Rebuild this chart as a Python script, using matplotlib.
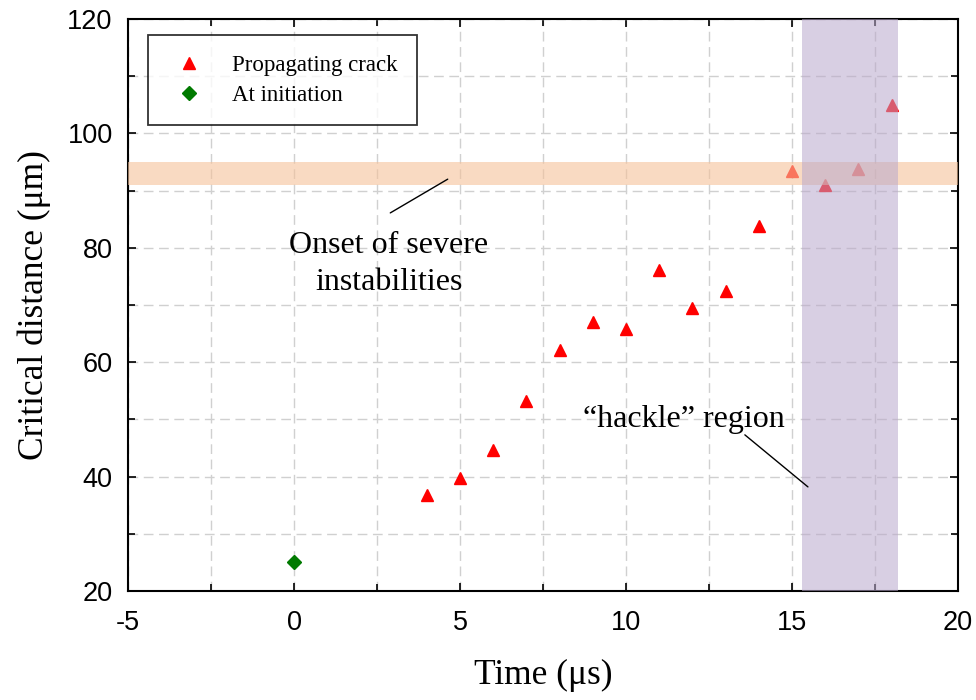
import matplotlib
matplotlib.use("Agg")
import matplotlib.pyplot as plt
from matplotlib.ticker import MultipleLocator

plt.rcParams["axes.unicode_minus"] = False

# Propagating crack: time (µs) vs critical distance (µm)
prop_time = [4, 5, 6, 7, 8, 9, 10, 11, 12, 13, 14, 15, 16, 17, 18]
prop_dist = [36.7, 39.8, 44.7, 53.2, 62.2, 67.0, 65.8, 76.1, 69.4, 72.5, 83.8, 93.4, 91.0, 93.7, 105.0]

# Crack initiation
init_time = [0]
init_dist = [25.0]

# Highlighted bands
onset_band = (91.0, 95.0)     # critical distance range
hackle_band = (15.3, 18.2)    # time range

serif = ["Liberation Serif", "DejaVu Serif"]
sans = ["Liberation Sans", "DejaVu Sans"]

fig = plt.figure(figsize=(9.76, 7.0), dpi=100)
ax = fig.add_axes([128 / 976, 1 - 591 / 700, (958 - 128) / 976, (591 - 19) / 700])

ax.set_xlim(-5, 20)
ax.set_ylim(20, 120)

ax.xaxis.set_major_locator(MultipleLocator(5))
ax.xaxis.set_minor_locator(MultipleLocator(2.5))
ax.yaxis.set_major_locator(MultipleLocator(20))
ax.yaxis.set_minor_locator(MultipleLocator(10))

ax.grid(which="both", color="#d0d0d0", linestyle=(0, (7, 4)), linewidth=1.0, zorder=0)
ax.set_axisbelow(True)

ax.tick_params(which="both", direction="in", top=True, right=True, width=1.2)
ax.tick_params(which="major", length=6, labelsize=19.5)
ax.tick_params(which="minor", length=5)
ax.tick_params(axis="x", which="major", pad=14)
ax.tick_params(axis="y", which="major", pad=11)
for lbl in ax.get_xticklabels() + ax.get_yticklabels():
    lbl.set_family(sans)
for sp in ax.spines.values():
    sp.set_linewidth(1.5)

ax.plot(prop_time, prop_dist, linestyle="none", marker="^", markersize=8,
        color="#ff0000", label="Propagating crack", zorder=3)
ax.plot(init_time, init_dist, linestyle="none", marker="D", markersize=7,
        color="#007a00", label="At initiation", zorder=3)

ax.axhspan(*onset_band, color="#f5c29a", alpha=0.6, linewidth=0, zorder=4)
ax.axvspan(*hackle_band, color="#b9a8cc", alpha=0.55, linewidth=0, zorder=4)

# Annotation: onset of severe instabilities
line_kw = dict(arrowstyle="-", color="black", lw=1.0, shrinkA=0, shrinkB=0)
ax.annotate("", xy=(4.63, 92.0), xytext=(2.9, 86.1), arrowprops=line_kw, zorder=5)
ax.text(2.86, 79.1, "Onset of severe", fontsize=23, family=serif,
        ha="center", va="baseline", zorder=5)
ax.text(2.86, 72.6, "instabilities", fontsize=23, family=serif,
        ha="center", va="baseline", zorder=5)

# Annotation: hackle region
ax.annotate("", xy=(15.48, 38.2), xytext=(13.58, 47.3), arrowprops=line_kw, zorder=5)
ax.text(11.75, 48.7, "\u201chackle\u201d region", fontsize=23, family=serif,
        ha="center", va="baseline", zorder=5)

leg = ax.legend(loc="upper left", bbox_to_anchor=(0.024, 0.972), prop={"family": serif, "size": 16.5},
                frameon=True, fancybox=False, edgecolor="black", borderpad=0.85,
                handletextpad=0.9, labelspacing=0.4, borderaxespad=0, handlelength=1.9)
leg.get_frame().set_linewidth(1.3)
leg.set_zorder(6)

ax.set_xlabel("Time (\u03bcs)", fontsize=25.5, family=serif, labelpad=16)
ax.set_ylabel("Critical distance (\u03bcm)", fontsize=25.5, family=serif, labelpad=12)

fig.savefig("out.png", dpi=100)
